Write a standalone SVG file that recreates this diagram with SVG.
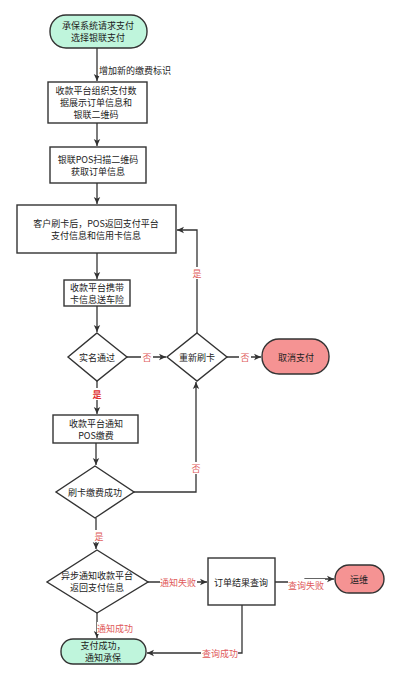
<svg xmlns="http://www.w3.org/2000/svg" width="400" height="681" viewBox="0 0 400 681">
<style>
.n{stroke:#333;stroke-width:1.4;fill:#fff}
.g{fill:#bff5dc}
.r{fill:#f59393}
.t{font-family:"Noto Sans CJK SC","Liberation Sans",sans-serif;font-size:9px;fill:#222;text-anchor:middle;dominant-baseline:central}
.e{fill:none;stroke:#333;stroke-width:1.3}
.l{font-family:"Noto Sans CJK SC","Liberation Sans",sans-serif;font-size:9px;fill:#e05a5a;text-anchor:middle;dominant-baseline:central}
.lb{fill:#fff}
</style>
<defs>
<marker id="a" markerWidth="8" markerHeight="8" refX="7" refY="4" orient="auto" markerUnits="userSpaceOnUse">
<path d="M0,0.8 L7,4 L0,7.2 L1.8,4 Z" fill="#333"/>
</marker>
</defs>
<rect width="400" height="681" fill="#fff"/>
<g id="connectors">
<path class="e" d="M97,48 V81" marker-end="url(#a)"/>
<path class="e" d="M97,123 V146" marker-end="url(#a)"/>
<path class="e" d="M97,183 V204" marker-end="url(#a)"/>
<path class="e" d="M97,253 V279" marker-end="url(#a)"/>
<path class="e" d="M97,306 V332" marker-end="url(#a)"/>
<path class="e" d="M127,357 H166" marker-end="url(#a)"/>
<path class="e" d="M197,333 V230 H177" marker-end="url(#a)"/>
<path class="e" d="M227,357 H261" marker-end="url(#a)"/>
<path class="e" d="M97,381 V414" marker-end="url(#a)"/>
<path class="e" d="M96,443 V465" marker-end="url(#a)"/>
<path class="e" d="M134,492 H196 V382" marker-end="url(#a)"/>
<path class="e" d="M96,518 V549" marker-end="url(#a)"/>
<path class="e" d="M148,582 H207" marker-end="url(#a)"/>
<path class="e" d="M275,582 H305 V579 H334" marker-end="url(#a)"/>
<path class="e" d="M97,613 V638" marker-end="url(#a)"/>
<path class="e" d="M242,605 V653 H147" marker-end="url(#a)"/>
<rect class="lb" x="98" y="64" width="72" height="12"/>
<text x="99" y="70" class="t" style="text-anchor:start">增加新的缴费标识</text>
<rect class="lb" x="141" y="351" width="12" height="12"/>
<text x="147" y="357" class="l">否</text>
<rect class="lb" x="191" y="267" width="12" height="12"/>
<text x="197" y="273" class="l">是</text>
<rect class="lb" x="239" y="351" width="12" height="12"/>
<text x="245" y="357" class="l">否</text>
<rect class="lb" x="91" y="388" width="12" height="12"/>
<text x="97" y="394" class="l" style="font-weight:bold;fill:#e03030">是</text>
<rect class="lb" x="190" y="462" width="12" height="12"/>
<text x="196" y="468" class="l">否</text>
<rect class="lb" x="94" y="530" width="11" height="12"/>
<text x="99" y="536" class="l">是</text>
<rect class="lb" x="160" y="576" width="37" height="12"/>
<text x="178" y="582" class="l">通知失败</text>
<rect class="lb" x="288" y="579" width="37" height="12"/>
<text x="306" y="585" class="l">查询失败</text>
<rect class="lb" x="97" y="622" width="36" height="12"/>
<text x="115" y="628" class="l">通知成功</text>
<rect class="lb" x="201" y="647" width="37" height="12"/>
<text x="220" y="653" class="l">查询成功</text>
</g>
<g id="start">
<rect class="n g" x="50" y="15" width="97" height="33" rx="16"/>
<text x="98" y="25.5" class="t">承保系统请求支付</text>
<text x="98" y="37.5" class="t">选择银联支付</text>
</g>
<g id="box2">
<rect class="n" x="48" y="82" width="99" height="41"/>
<text x="96" y="90.5" class="t">收款平台组织支付数</text>
<text x="96" y="102.5" class="t">据展示订单信息和</text>
<text x="96" y="114.5" class="t">银联二维码</text>
</g>
<g id="box3">
<rect class="n" x="50" y="147" width="96" height="36"/>
<text x="98" y="159" class="t">银联POS扫描二维码</text>
<text x="98" y="171" class="t">获取订单信息</text>
</g>
<g id="box4">
<rect class="n" x="17" y="205" width="159" height="48"/>
<text x="96" y="223" class="t">客户刷卡后，POS返回支付平台</text>
<text x="96" y="235" class="t">支付信息和信用卡信息</text>
</g>
<g id="box5">
<rect class="n" x="64" y="280" width="66" height="26"/>
<text x="97" y="287" class="t">收款平台携带</text>
<text x="97" y="299" class="t">卡信息送车险</text>
</g>
<g id="d1">
<path class="n" d="M97,333 L127,357 L97,381 L68,357 Z"/>
<text x="97" y="357" class="t">实名通过</text>
</g>
<g id="d2">
<path class="n" d="M197,333 L227,357 L197,381 L167,357 Z"/>
<text x="197" y="357" class="t">重新刷卡</text>
</g>
<g id="cancel">
<rect class="n r" x="262" y="339" width="67" height="35" rx="17"/>
<text x="296" y="357" class="t">取消支付</text>
</g>
<g id="box6">
<rect class="n" x="53" y="415" width="85" height="28"/>
<text x="96" y="423" class="t">收款平台通知</text>
<text x="96" y="435" class="t">POS缴费</text>
</g>
<g id="d3">
<path class="n" d="M95,466 L134,492 L95,518 L56,492 Z"/>
<text x="95" y="492" class="t">刷卡缴费成功</text>
</g>
<g id="d4">
<path class="n" d="M97,550 L148,582 L97,613 L47,582 Z"/>
<text x="97" y="575.5" class="t">异步通知收款平台</text>
<text x="97" y="587.5" class="t">返回支付信息</text>
</g>
<g id="box7">
<rect class="n" x="208" y="558" width="67" height="47"/>
<text x="241" y="582" class="t">订单结果查询</text>
</g>
<g id="ops">
<rect class="n r" x="335" y="565" width="49" height="28" rx="14"/>
<text x="359" y="579" class="t">运维</text>
</g>
<g id="final">
<rect class="n g" x="61" y="639" width="85" height="25" rx="12"/>
<text x="103" y="645.5" class="t">支付成功，</text>
<text x="103" y="657.5" class="t">通知承保</text>
</g>
</svg>
